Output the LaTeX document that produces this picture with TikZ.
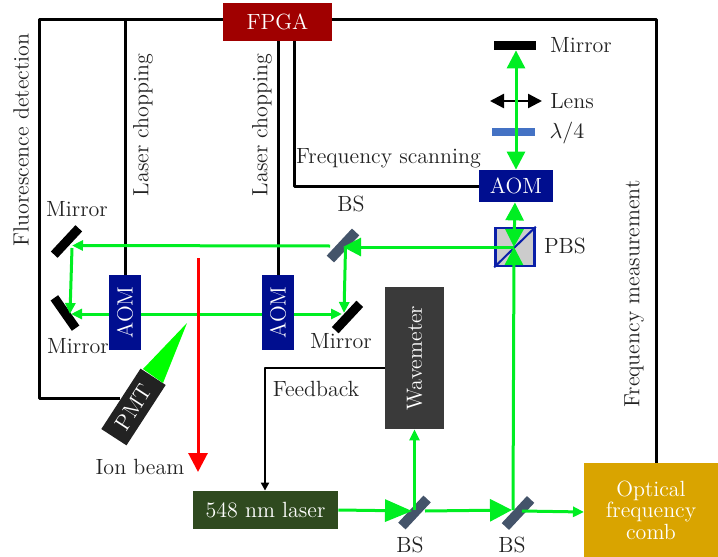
\documentclass[tikz,border=0pt]{standalone}
\usepackage{xcolor}
\usetikzlibrary{arrows.meta}
\definecolor{ink}{HTML}{222222}
\definecolor{beam}{HTML}{00EE22}
\definecolor{fpgared}{HTML}{A00000}
\definecolor{aomblue}{HTML}{000E8F}
\definecolor{wavegrey}{HTML}{3A3A3A}
\definecolor{lasergreen}{HTML}{2F4A1F}
\definecolor{combgold}{HTML}{D9A400}
\definecolor{bsslate}{HTML}{44546A}
\definecolor{plateblue}{HTML}{4472C4}
\definecolor{pbsgrey}{HTML}{CCCCCC}
\definecolor{pbsblue}{HTML}{0A1FA8}
\tikzset{
  lab/.style={text=ink, inner sep=0pt},
  box/.style={inner sep=0pt, text=white, align=center},
  ctrl/.style={draw=black, line width=1.5pt, line join=round},
  ray/.style={draw=beam, line width=1.5pt},
  bigtip/.style={-{Triangle[length=9pt,width=9pt]}},
  wide tip/.style={-{Triangle[length=11pt,width=11pt]}},
  smalltip/.style={-{Triangle[length=5.5pt,width=5pt]}},
  twotip/.style={{Triangle[length=9pt,width=9pt]}-{Triangle[length=9pt,width=9pt]}},
  bar/.style={fill=black, inner sep=0pt, minimum height=4.6pt},
  splitter/.style={fill=bsslate, inner sep=0pt, minimum width=18.5pt, minimum height=5pt}
}
\begin{document}
\begin{tikzpicture}[x=0.5pt,y=-0.5pt,font=\fontsize{11}{10.75}\selectfont]
\useasboundingbox (0,0) rectangle (718,557);
\node[box, fill=fpgared, minimum width=54.5pt, minimum height=19pt] (fpga) at (277.5,22) {FPGA};
\node[box, fill=aomblue, minimum width=37.5pt, minimum height=16pt, rotate=90] (aomone) at (125,312.5) {AOM};
\node[box, fill=aomblue, minimum width=37.5pt, minimum height=16pt, rotate=90] (aomtwo) at (278,312.5) {AOM};
\node[box, fill=aomblue, minimum width=37pt, minimum height=16pt] (aomthree) at (516,186) {AOM};
\node[box, fill=wavegrey, minimum width=71pt, minimum height=29.5pt, rotate=90] (wavemeter) at (414.5,358) {Wavemeter};
\node[box, fill=lasergreen, minimum width=72.5pt, minimum height=19pt] (laser) at (265.5,510) {548 nm laser};
\node[box, fill=combgold, minimum width=67pt, minimum height=47pt] (comb) at (651,510) {Optical\\frequency\\comb};
\node[box, fill=ink, minimum width=36pt, minimum height=15pt, rotate=57] (pmt) at (133.5,407) {PMT};
\node[bar, minimum width=18pt, rotate=47] (mirrortop) at (66.5,241.5) {};
\node[bar, minimum width=18.5pt, rotate=-55] (mirrorlow) at (65,313) {};
\node[bar, minimum width=18pt, rotate=47] (mirrorright) at (347.5,317) {};
\node[bar, minimum width=21pt, minimum height=4.5pt] (mirrorend) at (515,45.5) {};
\node[fill=plateblue, inner sep=0pt, minimum width=21.5pt, minimum height=4pt] (plate) at (513.5,132) {};
\node[fill=pbsgrey, draw=pbsblue, line width=1.3pt, inner sep=0pt, minimum width=19.5pt, minimum height=19pt] (pbs) at (515,247) {};
\node[splitter, rotate=47] (bstop) at (343,245.5) {};
\node[splitter, rotate=47] (bsone) at (414.5,512.5) {};
\node[splitter, rotate=47] (bstwo) at (518,513) {};
\coordinate (topleft) at (39,19);
\coordinate (topright) at (656,19);
\coordinate (lowleft) at (39,398);
\coordinate (tapone) at (125,19);
\coordinate (pmtin) at (120,398);
\coordinate (scancorner) at (294,186);
\coordinate (scantop) at (294,41);
\coordinate (feedcorner) at (265,368);
\coordinate (lensleft) at (490,101);
\coordinate (lensright) at (542,101);
\coordinate (pbscentre) at (514,247);
\coordinate (ionstart) at (198,258);
\coordinate (ionend) at (198,472);
\coordinate (conea) at (143,369);
\coordinate (coneb) at (163,383);
\coordinate (apex) at (187,323);
\draw[ctrl] (fpga.west |- topleft) -- (topleft) -- (lowleft) -- (pmtin);
\draw[ctrl] (fpga.east |- topright) -- (topright) -- (topright |- comb.north);
\draw[ctrl] (tapone) -- (aomone.east);
\draw[ctrl] (fpga.south -| aomtwo) -- (aomtwo.east);
\draw[ctrl] (scantop) -- (scancorner) -- (aomthree.west);
\draw[draw=black, line width=1pt, line join=round, -{Triangle[length=4pt,width=4pt]}] (wavemeter.north |- feedcorner) -- (feedcorner) -- (feedcorner |- laser.north);
\draw[black, line width=1.2pt, {Triangle[length=7pt,width=7pt]}-{Triangle[length=7pt,width=7pt]}] (lensleft) -- (lensright);
\fill[green] (conea) -- (coneb) -- (apex) -- cycle;
\draw[ray, twotip] (mirrorend.south -| 516,0) -- (aomthree.north -| 516,0);
\draw[pbsblue, line width=1pt] (pbs.south west) -- (pbs.north east);
\draw[ray, twotip] (aomthree.south -| 515,0) -- (pbscentre);
\draw[ray, bigtip] (pbscentre) -- (bstop.center |- pbscentre);
\coordinate (bsout) at (330,246);
\coordinate (mirrortopin) at (72,245.5);
\coordinate (bsdown) at (345.5,248);
\coordinate (mirrorrightin) at (344,313);
\coordinate (mirrorrightleft) at (342,314);
\coordinate (mirrorlowin) at (71,314);
\coordinate (mirrortopdown) at (72,248);
\coordinate (mirrorlowtop) at (70,314);
\draw[ray, smalltip] (bsout) -- (mirrortopin);
\draw[ray, smalltip] (bsdown) -- (mirrorrightin);
\draw[ray, smalltip] (aomtwo.south |- mirrorrightleft) -- (mirrorrightleft);
\draw[ray] (aomtwo.north |- mirrorrightleft) -- (aomone.south |- mirrorrightleft);
\draw[ray, smalltip] (aomone.north |- mirrorlowin) -- (mirrorlowin);
\draw[ray, smalltip] (mirrortopdown) -- (mirrorlowtop);
\draw[red, line width=1.5pt, -{Triangle[length=9.5pt,width=9.5pt]}] (ionstart) -- (ionend);
\coordinate (bsoneleft) at (412,511);
\coordinate (bsoneright) at (425,511);
\coordinate (bstwoleft) at (512,510);
\coordinate (bstworight) at (522,511);
\coordinate (combin) at (584,512);
\coordinate (bsoneup) at (414.5,510);
\coordinate (bstwoup) at (513,510);
\draw[ray, -{Triangle[length=13.5pt,width=11pt]}] (laser.east) -- (bsoneleft);
\draw[ray, wide tip] (bsoneright) -- (bstwoleft);
\draw[ray, smalltip] (bstworight) -- (combin);
\draw[ray, smalltip] (bsoneup) -- (wavemeter.west -| bsoneup);
\draw[ray, bigtip] (bstwoup) -- (pbscentre);
\node[lab, rotate=90] (fluolab) at (21,140) {Fluorescence detection};
\node[lab, rotate=90] (chopone) at (143,125) {Laser chopping};
\node[lab, rotate=90] (choptwo) at (262,125) {Laser chopping};
\node[lab, rotate=90] (freqmeas) at (634,294) {Frequency measurement};
\node[lab] (freqscan) at (388.5,158) {Frequency scanning};
\node[lab] (bstoplab) at (351,204) {BS};
\node[lab] (mirrortoplab) at (77,209) {Mirror};
\node[lab] (mirrorlowlab) at (78,346) {Mirror};
\node[lab] (mirrorrightlab) at (341,341) {Mirror};
\node[lab] (mirrorendlab) at (581,45) {Mirror};
\node[lab] (lenslab) at (572,101) {Lens};
\node[lab] (platelab) at (567,133) {$\lambda/4$};
\node[lab] (pbslab) at (565,246) {PBS};
\node[lab] (feedlab) at (316,389) {Feedback};
\node[lab] (ionlab) at (140,467) {Ion beam};
\node[lab] (bsonelab) at (410,545) {BS};
\node[lab] (bstwolab) at (512,545) {BS};
\end{tikzpicture}
\end{document}
